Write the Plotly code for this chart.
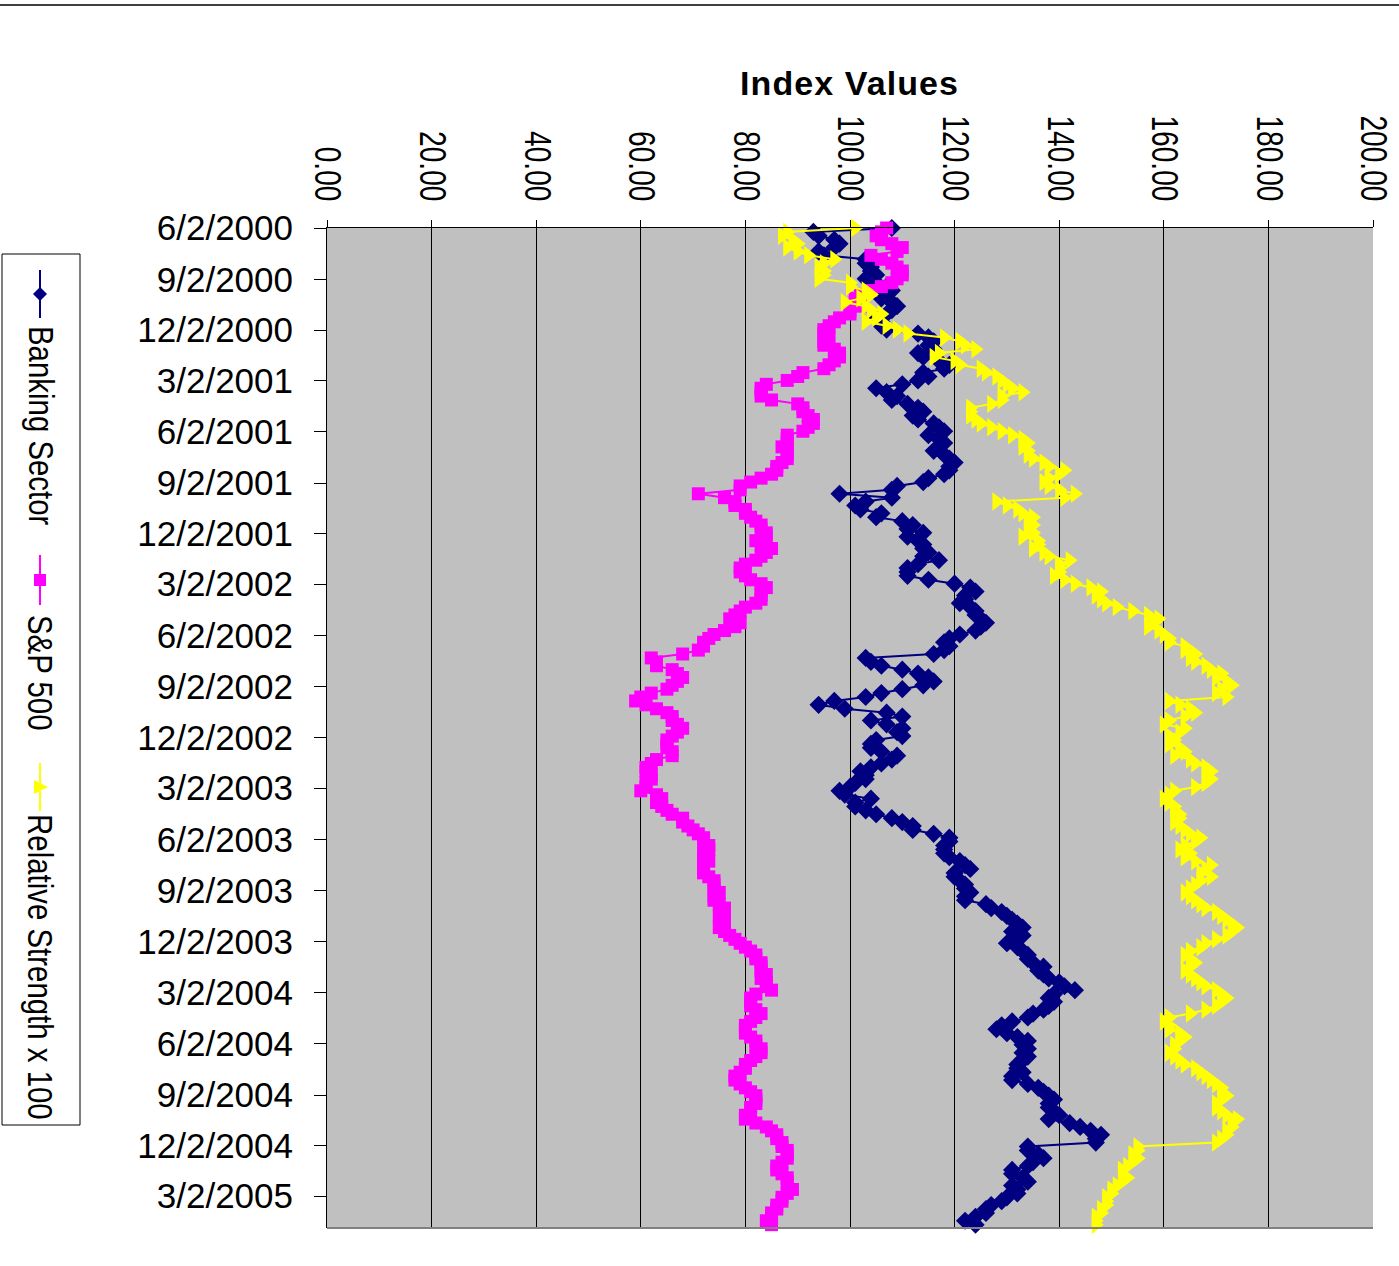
import pandas as pd
import plotly.graph_objects as go

# Weekly index values (Fridays), starting 6/2/2000
start_date = "2000-06-02"

banking = [
    108, 93, 94, 97, 98, 97, 94, 95, 103, 103,
    104, 104, 105, 103, 105, 107, 108, 107, 106, 108,
    109, 108, 107, 105, 106, 106, 107, 113, 115, 116,
    115, 116, 113, 114, 117, 119, 118, 114, 115, 113,
    110, 105, 107, 109, 108, 111, 113, 114, 112, 113,
    116, 117, 118, 115, 117, 118, 117, 116, 118, 119,
    120, 119, 119, 118, 115, 114, 109, 108, 98, 108,
    103, 101, 102, 106, 105, 110, 112, 111, 114, 111,
    113, 114, 114, 115, 114, 117, 113, 111, 111, 111,
    115, 120, 123, 124, 122, 122, 121, 123, 124, 124,
    125, 126, 125, 124, 121, 119, 118, 119, 118, 116,
    103, 104, 106, 110, 113, 115, 116, 114, 110, 106,
    103, 97, 94, 99, 107, 110, 104, 107, 110, 109,
    110, 105, 104, 104, 106, 109, 108, 106, 104, 102,
    103, 103, 101, 100, 98, 99, 104, 101, 101, 103,
    105, 108, 110, 112, 112, 116, 119, 119, 118, 118,
    118, 119, 121, 122, 123, 120, 120, 121, 122, 122,
    123, 122, 122, 126, 127, 129, 130, 131, 132, 133,
    131, 133, 131, 130, 132, 133, 134, 134, 135, 137,
    136, 137, 138, 140, 141, 143, 139, 138, 139, 138,
    137, 135, 134, 131, 129, 128, 130, 132, 134, 133,
    134, 133, 134, 133, 132, 132, 133, 131, 131, 134,
    136, 137, 138, 139, 138, 138, 139, 140, 138, 142,
    144, 146, 148, 147, 147, 134, 134, 136, 137, 135,
    134, 131, 131, 133, 134, 131, 132, 132, 130, 129,
    127, 126, 126, 124, 122, 124,
]

sp500 = [
    107, 106, 105, 106, 108, 110, 109, 104, 106, 108,
    109, 110, 110, 109, 108, 106, 104, 102, 101, 101,
    102, 100, 100, 98, 97, 96, 95, 95, 96, 95,
    95, 97, 98, 98, 97, 96, 95, 91, 90, 88,
    84, 83, 83, 83, 85, 90, 91, 91, 92, 93,
    93, 92, 91, 88, 88, 88, 87, 88, 88, 88,
    87, 86, 86, 85, 83, 81, 79, 79, 71, 76,
    78, 78, 80, 80, 81, 82, 83, 83, 84, 84,
    82, 83, 85, 84, 83, 82, 80, 79, 79, 80,
    81, 83, 84, 83, 83, 83, 82, 80, 79, 78,
    77, 79, 78, 76, 74, 73, 72, 72, 71, 68,
    62, 63, 63, 66, 67, 68, 67, 66, 65, 62,
    60, 59, 61, 63, 65, 66, 66, 67, 68, 67,
    66, 65, 65, 65, 66, 66, 63, 62, 61, 61,
    62, 62, 61, 61, 60, 63, 64, 63, 64, 65,
    66, 68, 68, 69, 70, 71, 72, 72, 73, 73,
    72, 72, 73, 72, 72, 72, 73, 74, 74, 74,
    75, 74, 74, 75, 76, 76, 75, 76, 76, 75,
    76, 77, 78, 79, 80, 81, 82, 82, 83, 83,
    83, 84, 83, 84, 84, 85, 82, 81, 81, 81,
    82, 83, 82, 81, 80, 80, 80, 81, 82, 82,
    83, 83, 82, 81, 80, 80, 79, 78, 78, 79,
    80, 81, 82, 82, 82, 81, 81, 80, 80, 82,
    84, 85, 86, 86, 87, 87, 88, 88, 88, 87,
    86, 86, 87, 88, 88, 88, 89, 88, 87, 87,
    86, 86, 85, 85, 84, 85,
]

rel_strength = [
    101, 88, 87, 89, 90, 88, 90, 92, 97, 95,
    94, 95, 95, 94, 100, 100, 103, 104, 102, 99,
    103, 104, 106, 105, 103, 107, 109, 111, 118, 121,
    122, 124, 117, 116, 120, 121, 125, 126, 128, 129,
    130, 131, 133, 129, 129, 127, 123, 123, 123, 124,
    125, 127, 129, 131, 133, 134, 133, 134, 134, 135,
    137, 138, 141, 140, 138, 137, 138, 140, 143, 141,
    128, 130, 132, 133, 135, 134, 135, 134, 135, 133,
    136, 136, 135, 137, 138, 142, 140, 140, 140, 139,
    141, 143, 146, 148, 147, 148, 149, 151, 154, 157,
    159, 158, 157, 159, 160, 161, 161, 164, 164, 166,
    165, 166, 168, 169, 171, 170, 172, 173, 171, 170,
    172, 161, 163, 165, 166, 164, 161, 160, 164, 163,
    161, 162, 161, 163, 164, 162, 165, 166, 168, 169,
    168, 169, 168, 166, 162, 161, 160, 161, 162, 162,
    163, 163, 162, 163, 164, 165, 167, 166, 164, 163,
    165, 164, 166, 169, 168, 167, 169, 167, 166, 165,
    164, 165, 166, 167, 168, 170, 171, 172, 173, 174,
    173, 172, 170, 168, 167, 165, 164, 165, 166, 165,
    164, 165, 166, 167, 168, 170, 171, 172, 171, 170,
    168, 165, 161, 160, 161, 161, 163, 164, 163, 162,
    162, 161, 162, 163, 164, 166, 167, 168, 169, 170,
    171, 171, 172, 171, 170, 170, 171, 172, 174, 173,
    173, 172, 172, 171, 170, 155, 155, 154, 155, 154,
    153, 152, 152, 153, 152, 151, 150, 150, 149, 149,
    149, 148, 148, 147, 147, 147,
]

value_ticks = [0, 20, 40, 60, 80, 100, 120, 140, 160, 180, 200]
date_tick_labels = [
    "6/2/2000", "9/2/2000", "12/2/2000", "3/2/2001", "6/2/2001", "9/2/2001",
    "12/2/2001", "3/2/2002", "6/2/2002", "9/2/2002", "12/2/2002", "3/2/2003",
    "6/2/2003", "9/2/2003", "12/2/2003", "3/2/2004", "6/2/2004", "9/2/2004",
    "12/2/2004", "3/2/2005",
]
series_names = ["Banking Sector", "S&P 500", "Relative Strength x 100"]
series_colors = ["#000080", "#FF00FF", "#FFFF00"]
axis_end_date = "2005-04-28"

dates = pd.date_range(start_date, periods=len(banking), freq="7D")
date_tick_vals = pd.to_datetime(date_tick_labels, format="%m/%d/%Y")

W, H = 1399, 1266
ML, MR, MT, MB = 327, 26, 228, 38
PW, PH = W - ML - MR, H - MT - MB


def px(x):
    return (x - ML) / PW


def py(y):
    return (H - MB - y) / PH


FONT = "Liberation Sans, Arial, sans-serif"

fig = go.Figure()
symbols = ["diamond", "square", "triangle-right"]
sizes = [14, 13, 16]
for name, vals, col, sym, sz in zip(series_names, [banking, sp500, rel_strength],
                                    series_colors, symbols, sizes):
    fig.add_trace(go.Scatter(
        x=vals, y=dates, mode="lines+markers", name=name,
        line=dict(color=col, width=2),
        marker=dict(symbol=sym, size=sz, color=col, line=dict(width=0)),
        cliponaxis=False, showlegend=False,
    ))

fig.update_layout(
    width=W, height=H,
    margin=dict(l=ML, r=MR, t=MT, b=MB, autoexpand=False),
    paper_bgcolor="white", plot_bgcolor="#C0C0C0",
    font=dict(family=FONT, color="black"),
)

fig.update_xaxes(
    side="top", range=[0, 200], tickvals=value_ticks,
    ticktext=[f"{v:.2f}" for v in value_ticks],
    tickangle=90, tickfont=dict(size=36, family=FONT, color="black"),
    ticks="outside", ticklen=7, tickcolor="black", tickwidth=1,
    showgrid=True, gridcolor="black", gridwidth=1,
    showline=True, linecolor="black", linewidth=1,
    zeroline=False, ticklabelstandoff=6,
)
fig.update_yaxes(
    type="date", range=[axis_end_date, start_date],
    tickvals=date_tick_vals, ticktext=date_tick_labels,
    tickfont=dict(size=35, family=FONT, color="black"),
    ticks="outside", ticklen=12, tickcolor="black", tickwidth=1,
    showgrid=False, showline=True, linecolor="black", linewidth=1,
    zeroline=False, ticklabelstandoff=14,
)

shapes = []
# Top rule across the page
shapes.append(dict(type="line", xref="paper", yref="paper",
                   x0=px(0), x1=px(W), y0=py(5), y1=py(5),
                   line=dict(color="#404040", width=2)))
# Bottom edge of plot area
shapes.append(dict(type="line", xref="paper", yref="paper",
                   x0=0, x1=1, y0=0, y1=0,
                   line=dict(color="#808080", width=2)))
# Legend frame
shapes.append(dict(type="rect", xref="paper", yref="paper",
                   x0=px(2), x1=px(80), y0=py(254), y1=py(1125),
                   line=dict(color="black", width=1), fillcolor="white"))

legend_x = 40
legend_items = [(270, 318, 294), (555, 605, 580), (763, 811, 787)]
legend_text_y = [426, 673, 967]
for (y0, y1, ym), col, sym in zip(legend_items, series_colors, symbols):
    shapes.append(dict(type="line", xref="paper", yref="paper",
                       x0=px(legend_x), x1=px(legend_x), y0=py(y0), y1=py(y1),
                       line=dict(color=col, width=2)))
    if sym == "diamond":
        pts = [(0, -7), (7, 0), (0, 7), (-7, 0)]
    elif sym == "square":
        pts = [(-6, -6), (6, -6), (6, 6), (-6, 6)]
    else:
        pts = [(-6, -7), (8, 0), (-6, 7)]
    path = "M " + " L ".join(f"{px(legend_x + dx):.5f},{py(ym + dy):.5f}" for dx, dy in pts) + " Z"
    shapes.append(dict(type="path", xref="paper", yref="paper", path=path,
                       fillcolor=col, line=dict(color=col, width=0)))

annotations = [dict(
    text="Index Values",
    xref="paper", yref="paper", x=px(849), y=py(83),
    xanchor="center", yanchor="middle", showarrow=False,
    font=dict(family=FONT, size=34, color="black", weight="bold"),
)]
for name, yc in zip(series_names, legend_text_y):
    annotations.append(dict(
        text=name, xref="paper", yref="paper", x=px(41), y=py(yc),
        xanchor="center", yanchor="middle", textangle=90, showarrow=False,
        font=dict(family=FONT, size=35, color="black"),
    ))

fig.update_layout(shapes=shapes, annotations=annotations)

# Condensed lettering for the value labels, legend entries and the heading
condense_js = """
var gd = document.getElementById('{plot_id}');
function squeeze(nodes, factor) {
  nodes.forEach(function (t) {
    var L = t.getComputedTextLength();
    t.setAttribute('textLength', (L * factor).toFixed(1));
    t.setAttribute('lengthAdjust', 'spacingAndGlyphs');
  });
}
squeeze(gd.querySelectorAll('.xtick text'), 0.78);
var ann = gd.querySelectorAll('.annotation');
var legendNodes = [];
for (var i = 1; i < ann.length; i++) {
  var t = ann[i].querySelector('text');
  if (t) legendNodes.push(t);
}
squeeze(legendNodes, 0.84);
var title = ann[0].querySelector('text');
if (title) {
  title.setAttribute('textLength', '218');
  title.setAttribute('lengthAdjust', 'spacing');
}
"""

fig.write_html("out.html", post_script=condense_js)
